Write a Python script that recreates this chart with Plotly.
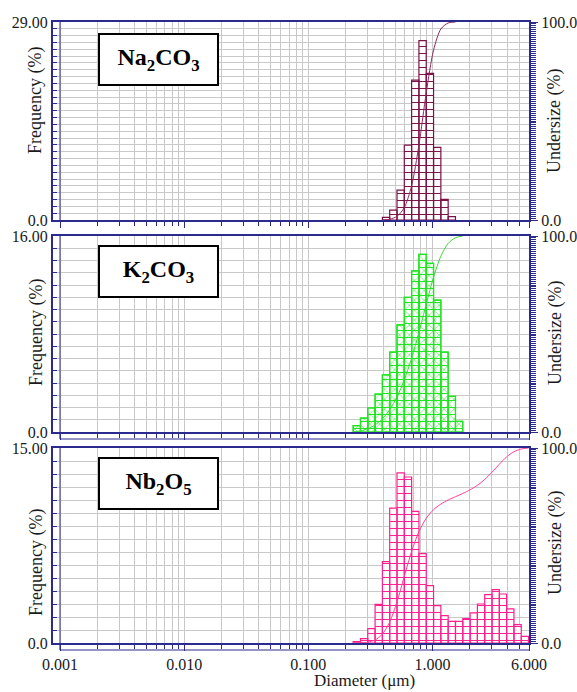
import numpy as np
import plotly.graph_objects as go

# Laser-diffraction size-class boundaries (um)
size_classes = [0.2299, 0.2633, 0.3015, 0.3453, 0.3954, 0.4529, 0.5186, 0.5939,
                0.6801, 0.7789, 0.8920, 1.0215, 1.1698, 1.3397, 1.5341, 1.7568,
                2.0119, 2.3041, 2.6386, 3.0217, 3.4604, 3.9627, 4.5380, 5.1969,
                5.9514]

sample_names = ["Na<sub>2</sub>CO<sub>3</sub>",
                "K<sub>2</sub>CO<sub>3</sub>",
                "Nb<sub>2</sub>O<sub>5</sub>"]

# frequency (%) per size class, starting at the given class index
na2co3_first_class = 4
na2co3_freq = [0.39, 1.46, 4.39, 10.98, 20.50, 26.27, 21.48, 10.64, 3.03, 0.49]

k2co3_first_class = 0
k2co3_freq = [0.52, 1.14, 1.96, 3.10, 4.67, 6.52, 8.75, 11.00, 13.15, 14.50,
              13.77, 10.76, 6.52, 2.91, 0.87]

nb2o5_first_class = 0
nb2o5_freq = [0.10, 0.33, 1.10, 2.97, 6.26, 10.38, 13.08, 12.77, 10.13, 6.87,
              4.41, 2.87, 2.10, 1.67, 1.67, 1.87, 2.31, 3.00, 3.72, 4.10,
              3.77, 2.62, 1.41, 0.51]

freq_axis_max = [29.0, 16.0, 15.0]
freq_axis_top_label = ["29.00", "16.00", "15.00"]

x_tick_vals = [0.001, 0.01, 0.1, 1.0, 6.0]
x_tick_text = ["0.001", "0.010", "0.100", "1.000", "6.000"]

# ---------------------------------------------------------------- layout
W, H = 577, 692
NAVY = "#2b2b8f"
GRID = "#c9c9c9"
FONT = "Liberation Serif, DejaVu Serif, serif"


def fx(px):
    return px / W


def fy(py):
    return 1 - py / H


panel_top = [22, 236, 448]
panel_bottom = [220, 432, 643]
label_box_cy = [59.5, 271, 483]
freq_title_cy = [101, 333, 563]
under_title_cy = [121, 333, 543]

x_left_px, x_data_px, x_right_px = 53, 60, 529
dec_px = (x_right_px - x_data_px) / (np.log10(6.0) - np.log10(0.001))
x_range = [np.log10(0.001) - (x_data_px - x_left_px) / dec_px, np.log10(6.0)]
x_minor = [m * 10.0 ** e for e in range(-3, 1) for m in range(2, 10) if m * 10.0 ** e < 6.0]

series = [
    dict(first=na2co3_first_class, freq=na2co3_freq, bar="#7b1046", line="#8e2a5a",
         shapes=["-"]),
    dict(first=k2co3_first_class, freq=k2co3_freq, bar="#1fe41f", line="#3ad83a",
         shapes=["-", "x"]),
    dict(first=nb2o5_first_class, freq=nb2o5_freq, bar="#ff1f8f", line="#ff3d9a",
         shapes=["-"]),
]


def bar_outline(edges, freq):
    xs, ys = [], []
    for lo, hi, f in zip(edges[:-1], edges[1:], freq):
        xs += [lo, lo, hi, hi, lo, None]
        ys += [0, f, f, 0, 0, None]
    return xs, ys


def axis_id(letter, n):
    return letter if n == 1 else f"{letter}{n}"


def axis_key(letter, n):
    return f"{letter}axis" if n == 1 else f"{letter}axis{n}"


fig = go.Figure()
annotations = []
shapes = []

for i, s in enumerate(series):
    xa = axis_id("x", i + 1)
    ya = axis_id("y", i + 1)
    ya2 = axis_id("y", i + 4)
    edges = size_classes[s["first"]: s["first"] + len(s["freq"]) + 1]

    bx, by = bar_outline(edges, s["freq"])
    for k, shp in enumerate(s["shapes"]):
        fig.add_trace(go.Scatter(
            x=bx, y=by, xaxis=xa, yaxis=ya, mode="lines", fill="toself",
            fillcolor="white" if k == 0 else "rgba(0,0,0,0)",
            line=dict(color=s["bar"], width=1.2),
            fillpattern=dict(shape=shp, size=7, solidity=0.14, fgcolor=s["bar"],
                             bgcolor="white" if k == 0 else "rgba(0,0,0,0)",
                             fillmode="replace"),
            hoverinfo="skip", showlegend=False))

    cum = np.concatenate([[0.0], np.cumsum(s["freq"])])
    cum = cum / cum[-1] * 100.0
    fig.add_trace(go.Scatter(
        x=edges, y=cum, xaxis=xa, yaxis=ya2, mode="lines",
        line=dict(color=s["line"], width=1, shape="spline", smoothing=0.8),
        showlegend=False))

    dom_y = [fy(panel_bottom[i]), fy(panel_top[i])]
    fig.layout[axis_key("x", i + 1)] = dict(
        type="log", domain=[fx(x_left_px), fx(x_right_px)], range=x_range,
        anchor=ya, showline=True, mirror=True, linecolor=NAVY, linewidth=1.5,
        tickmode="array", tickvals=x_tick_vals, ticktext=x_tick_text,
        showticklabels=(i == 2), ticks="outside", ticklen=6, tickcolor=NAVY,
        showgrid=True, gridcolor=GRID, gridwidth=1, zeroline=False,
        minor=dict(tickmode="array", tickvals=x_minor, ticks="outside", ticklen=4,
                   tickcolor=NAVY, showgrid=True, gridcolor=GRID, gridwidth=1),
        tickfont=dict(family=FONT, size=16, color="#1a1a1a"),
    )

    ymax = freq_axis_max[i]
    fig.layout[axis_key("y", i + 1)] = dict(
        domain=dom_y, range=[0, ymax], anchor=xa, showline=True, linecolor=NAVY,
        linewidth=2, tickmode="array", tickvals=[0, ymax],
        ticktext=["0.0", freq_axis_top_label[i]],
        ticks="inside", ticklen=7, tickcolor=NAVY, showgrid=True, gridcolor=GRID,
        zeroline=False,
        minor=dict(dtick=1, ticks="inside", ticklen=4, tickcolor=NAVY,
                   showgrid=True, gridcolor=GRID),
        tickfont=dict(family=FONT, size=16, color="#1a1a1a"),
    )

    fig.layout[axis_key("y", i + 4)] = dict(
        domain=dom_y, range=[0, 100], overlaying=ya, side="right", anchor=xa,
        showline=True, linecolor=NAVY, linewidth=2, tickmode="array",
        tickvals=[0, 100], ticktext=["0.0", "100.0"],
        ticks="outside", ticklen=7, tickcolor=NAVY, showgrid=False, zeroline=False,
        minor=dict(dtick=1, ticks="outside", ticklen=5, tickcolor=NAVY, showgrid=False),
        tickfont=dict(family=FONT, size=16, color="#1a1a1a"),
    )

    # frame edge at the start of the data range
    shapes.append(dict(type="line", xref=xa, yref=f"{ya} domain", x0=0.001, x1=0.001,
                       y0=0, y1=1, line=dict(color=NAVY, width=1)))
    if i > 0:
        yb = panel_bottom[i] + 7
        shapes.append(dict(type="line", xref="paper", yref="paper",
                           x0=fx(x_data_px), x1=fx(x_right_px), y0=fy(yb), y1=fy(yb),
                           line=dict(color=NAVY, width=1.2)))
        shapes.append(dict(type="line", xref="paper", yref="paper",
                           x0=fx(x_data_px), x1=fx(x_data_px),
                           y0=fy(panel_bottom[i]), y1=fy(yb),
                           line=dict(color=NAVY, width=1.2)))

    annotations.append(dict(
        text=sample_names[i], xref="paper", yref="paper", x=fx(158.5),
        y=fy(label_box_cy[i]), xanchor="center", yanchor="middle", showarrow=False,
        width=117, height=49, borderpad=0, bordercolor="black", borderwidth=2,
        bgcolor="white", font=dict(family=FONT, size=24, color="black", weight="bold")))
    annotations.append(dict(
        text="Frequency (%)", xref="paper", yref="paper", x=fx(36),
        y=fy(freq_title_cy[i]), xanchor="center", yanchor="middle", textangle=-90,
        showarrow=False, font=dict(family=FONT, size=18, color="#1a1a1a")))
    annotations.append(dict(
        text="Undersize (%)", xref="paper", yref="paper", x=fx(555),
        y=fy(under_title_cy[i]), xanchor="center", yanchor="middle", textangle=-90,
        showarrow=False, font=dict(family=FONT, size=18, color="#1a1a1a")))

annotations.append(dict(
    text="Diameter (μm)", xref="paper", yref="paper", x=fx(364), y=fy(680),
    xanchor="center", yanchor="middle", showarrow=False,
    font=dict(family=FONT, size=17, color="#1a1a1a")))

fig.update_layout(
    width=W, height=H, margin=dict(l=0, r=0, t=0, b=0),
    paper_bgcolor="white", plot_bgcolor="white", template="none",
    showlegend=False, annotations=annotations, shapes=shapes,
)

fig.write_html("out.html")
